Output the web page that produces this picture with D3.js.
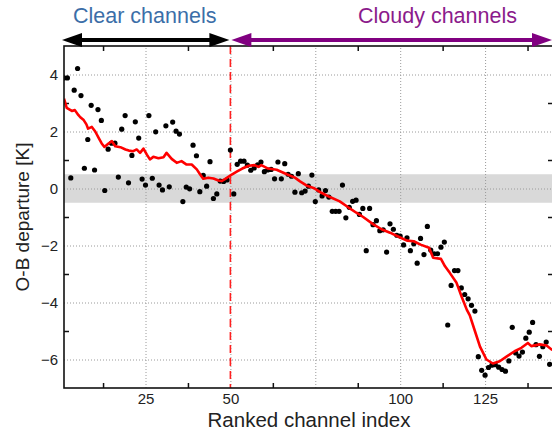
<!DOCTYPE html>
<html>
<head>
<meta charset="utf-8">
<script src="https://cdn.jsdelivr.net/npm/d3@7"></script>
<style>
  body { margin: 0; background: #fff; }
  text { font-family: "Liberation Sans", Arial, sans-serif; }
</style>
</head>
<body>
<div id="chart"></div>
<script>
// O-B departure per ranked channel (index 1..144)
var obsValues = [
  3.88, 3.88, 0.37, 3.45, 4.21, 3.26, 0.71, 1.72, 2.92, 0.65,
  2.77, 2.39, -0.07, 1.38, 1.59, 1.59, 0.40, 2.08, 2.56, 0.20,
  1.16, 2.34, 1.77, 0.33, 0.12, 2.56, 0.36, 1.99, 0.12, -0.05,
  2.20, 0.06, 2.33, 2.01, 1.91, -0.46, 0.05, -0.01, 1.52, 1.15,
  -0.11, 0.46, 0.08, 0.94, -0.35, -0.19, 0.26, 0.25, 0.30, 1.35,
  -0.19, 0.85, 0.96, 0.96, 0.82, 0.64, 0.72, 0.83, 0.93, 0.59,
  0.65, 0.67, 0.34, 0.93, 0.34, 0.87, 0.50, 0.43, -0.13, 0.52,
  -0.15, -0.09, 0.08, 0.47, -0.46, -0.05, -0.26, -0.07, -0.30, -0.80,
  -0.80, -0.80, 0.12, -1.03, -0.66, -0.45, -0.41, -0.91, -0.70, -2.18,
  -0.70, -1.27, -1.13, -1.48, -1.45, -2.23, -1.24, -1.43, -1.64, -1.67,
  -1.98, -1.73, -2.18, -1.94, -2.62, -1.75, -2.32, -1.33, -2.16, -2.29,
  -2.29, -2.06, -1.88, -4.79, -3.40, -2.88, -2.88, -3.49, -3.72, -3.87,
  -4.10, -4.30, -5.90, -6.38, -6.55, -6.28, -6.20, -6.18, -6.27, -6.35,
  -6.41, -6.05, -4.87, -5.77, -5.88, -5.74, -5.25, -5.04, -4.70, -5.48,
  -5.89, -5.55, -5.39, -6.17
];

// running mean (red line), read at its vertices
var meanIdx = [
  1, 1.8, 3.3, 4.2, 5.2, 5.8, 6.8, 7.6, 8.1, 9.2,
  10.2, 11.2, 12.1, 12.9, 14.1, 15.1, 16.1, 17.6, 19.1, 20.1,
  21.4, 22.4, 23.4, 24.4, 25.4, 26.3, 27.3, 28.8, 30.3, 31.2,
  32.7, 34.2, 35.6, 37.1, 38.6, 40.1, 41.1, 42.0, 43.5, 45.0,
  46.5, 47.4, 48.4, 50.4, 52.0, 53.5, 55.4, 57.1, 58.3, 59.1,
  61.1, 63.6, 66.6, 69.0, 70.5, 72.5, 74.5, 76.8, 79.3, 82.2,
  84.7, 87.1, 89.1, 92.0, 94.5, 97.0, 100.0, 102.0, 104.0, 106.0,
  108.5, 109.7, 112.0, 113.2, 114.6, 116.6, 118.1, 119.6, 120.5, 122.0,
  123.5, 125.4, 127.3, 129.3, 131.3, 133.7, 135.7, 137.6, 138.6, 141.1,
  143.1, 144.6, 146
];
var meanVal = [
  3.15, 2.83, 2.72, 2.75, 2.58, 2.50, 2.40, 2.25, 2.10, 2.16,
  2.00, 1.78, 1.58, 1.46, 1.58, 1.66, 1.48, 1.45, 1.37, 1.33,
  1.31, 1.37, 1.25, 1.40, 1.19, 1.02, 1.11, 1.06, 1.10, 1.25,
  1.04, 0.90, 0.96, 0.84, 0.84, 0.67, 0.49, 0.34, 0.38, 0.35,
  0.28, 0.26, 0.33, 0.49, 0.60, 0.70, 0.80, 0.82, 0.76, 0.82,
  0.70, 0.66, 0.50, 0.38, 0.25, 0.10, 0.02, -0.15, -0.30, -0.45,
  -0.66, -0.85, -1.00, -1.25, -1.43, -1.55, -1.72, -1.83, -1.85, -1.97,
  -2.08, -2.43, -2.47, -2.73, -2.96, -3.31, -3.80, -4.25, -4.45, -5.00,
  -5.55, -6.00, -6.14, -6.06, -5.90, -5.71, -5.59, -5.42, -5.53, -5.47,
  -5.51, -5.65, -5.70
];

var xMajor = [25, 50, 75, 100, 125];
var xLabels = [25, 50, 100, 125];   // 75 sits under the axis title in the original
var xMinor = [12.5, 37.5, 62.5, 87.5, 112.5, 137.5];
var yMajor = [-6, -4, -2, 0, 2, 4];
var yMinor = [-5, -3, -1, 1, 3];
var splitIdx = 50;

var margin = {top: 46, right: -1, bottom: 43, left: 64},
    width = 552 - margin.left - margin.right,
    height = 431 - margin.top - margin.bottom;

var svg = d3.select("#chart")
  .append("svg")
  .attr("width", 552)
  .attr("height", 431)
  .append("g")
  .attr("transform", "translate(" + margin.left + "," + margin.top + ")");

var x = d3.scaleLinear().domain([1, 145]).range([0, width]);
var y = d3.scaleLinear().domain([-7, 5]).range([height, 0]);

svg.append("clipPath").attr("id", "plotclip")
  .append("rect").attr("width", width).attr("height", height);

// grey band +-0.5 K
svg.append("rect")
  .attr("x", 0)
  .attr("y", y(0.5))
  .attr("width", width)
  .attr("height", y(-0.5) - y(0.5))
  .attr("fill", "#d9d9d9");

// dotted grid at the major ticks
var gx = svg.append("g")
  .attr("transform", "translate(0," + height + ")")
  .call(d3.axisBottom(x).tickValues(xMajor).tickSize(-height).tickFormat(""));
var gy = svg.append("g")
  .call(d3.axisLeft(y).tickValues(yMajor).tickSize(-width).tickFormat(""));
[gx, gy].forEach(function(g) {
  g.select(".domain").remove();
  g.selectAll("line")
    .attr("stroke", "#9a9a9a")
    .attr("stroke-width", 1)
    .attr("stroke-dasharray", "1,2");
});

// minor ticks pointing inward on all sides
function minorTicks(axis, transform) {
  var g = svg.append("g").attr("transform", transform).call(axis);
  g.select(".domain").remove();
  g.selectAll("line").attr("stroke", "#111").attr("stroke-width", 1.5);
}
minorTicks(d3.axisBottom(x).tickValues(xMinor).tickSize(-5).tickFormat(""), "translate(0," + height + ")");
minorTicks(d3.axisTop(x).tickValues(xMinor).tickSize(-5).tickFormat(""), "translate(0,0)");
minorTicks(d3.axisLeft(y).tickValues(yMinor).tickSize(-5).tickFormat(""), "translate(0,0)");
minorTicks(d3.axisRight(y).tickValues(yMinor).tickSize(-5).tickFormat(""), "translate(" + width + ",0)");

// tick labels
var xl = svg.append("g")
  .attr("transform", "translate(0," + height + ")")
  .call(d3.axisBottom(x).tickValues(xLabels).tickSize(0).tickPadding(5));
var yl = svg.append("g")
  .call(d3.axisLeft(y).tickValues(yMajor).tickSize(0).tickPadding(6));
[xl, yl].forEach(function(g) {
  g.select(".domain").remove();
  g.selectAll("text")
    .style("font-size", "15px")
    .style("font-family", "Liberation Sans, Arial, sans-serif")
    .attr("fill", "#222");
});

var plot = svg.append("g").attr("clip-path", "url(#plotclip)");

// split between clear and cloudy channels
plot.append("line")
  .attr("x1", x(splitIdx)).attr("x2", x(splitIdx))
  .attr("y1", 0).attr("y2", height)
  .attr("stroke", "#ff2020")
  .attr("stroke-width", 1.6)
  .attr("stroke-dasharray", "8,5");

plot.selectAll("circle")
  .data(obsValues)
  .enter()
  .append("circle")
  .attr("cx", function(d, i) { return x(i + 1); })
  .attr("cy", function(d) { return y(d); })
  .attr("r", 2.6)
  .attr("fill", "#000");

var line = d3.line()
  .x(function(d) { return x(d[0]); })
  .y(function(d) { return y(d[1]); });

plot.append("path")
  .datum(d3.zip(meanIdx, meanVal))
  .attr("d", line)
  .attr("fill", "none")
  .attr("stroke", "#ff0000")
  .attr("stroke-width", 2.6)
  .attr("stroke-linejoin", "round");

// frame
svg.append("rect")
  .attr("width", width)
  .attr("height", height)
  .attr("fill", "none")
  .attr("stroke", "#111")
  .attr("stroke-width", 1.6);

// double arrows above the plot
function arrow(x0, x1, color) {
  var ay = -6, head = 20, half = 7;
  svg.append("line")
    .attr("x1", x0 + head - 2).attr("x2", x1 - head + 2)
    .attr("y1", ay).attr("y2", ay)
    .attr("stroke", color).attr("stroke-width", 4);
  svg.append("path")
    .attr("d", "M" + x0 + "," + ay + "L" + (x0 + head) + "," + (ay - half) + "L" + (x0 + head) + "," + (ay + half) + "Z")
    .attr("fill", color);
  svg.append("path")
    .attr("d", "M" + x1 + "," + ay + "L" + (x1 - head) + "," + (ay - half) + "L" + (x1 - head) + "," + (ay + half) + "Z")
    .attr("fill", color);
}
arrow(x(1) - 2, x(splitIdx) - 1, "#000");
arrow(x(splitIdx) + 1, x(145) - 1, "#800080");

svg.append("text")
  .attr("x", 9)
  .attr("y", -23)
  .style("font-size", "21.5px")
  .attr("fill", "#3b6ea8")
  .text("Clear channels");

svg.append("text")
  .attr("x", 294)
  .attr("y", -23)
  .style("font-size", "21.5px")
  .attr("fill", "#8b1a8b")
  .text("Cloudy channels");

// axis titles
svg.append("text")
  .attr("x", 309 - margin.left)
  .attr("y", height + 39)
  .attr("text-anchor", "middle")
  .style("font-size", "20.5px")
  .attr("fill", "#222")
  .text("Ranked channel index");

svg.append("text")
  .attr("transform", "translate(-35," + (height / 2) + ")rotate(-90)")
  .attr("text-anchor", "middle")
  .style("font-size", "19px")
  .attr("fill", "#222")
  .text("O-B departure [K]");
</script>
</body>
</html>
